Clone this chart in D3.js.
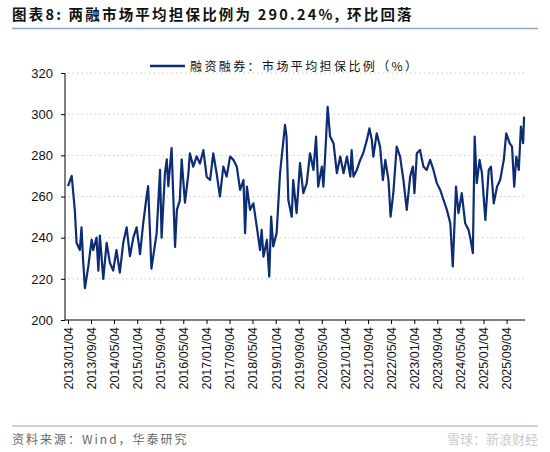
<!DOCTYPE html>
<html><head><meta charset="utf-8">
<script src="https://cdn.jsdelivr.net/npm/d3@7"></script>
<style>body{margin:0;background:#fff}svg{display:block}</style>
</head><body>
<svg id="c" width="550" height="452"></svg>
<script>
const titleText = "图表8:  两融市场平均担保比例为 290.24%,  环比回落";
const seriesName = "融资融券：市场平均担保比例（%）";
const sourceText = "资料来源：Wind，华泰研究";
const watermark = "雪球：新浪财经";
const yTicks = [200,220,240,260,280,300,320];
// reading positions (in 3.04px units from 2013/01/04); calibrated to months below
const monthsRaw = [0,1.2,2.3,2.85,3.95,4.5,5.0,5.6,6.7,7.8,8.3,9.4,10.0,10.5,11.6,12.7,13.8,14.9,16.0,17.1,18.2,19.3,20.4,21.5,22.6,23.7,24.8,25.9,26.4,27.5,29.2,30.3,30.8,31.9,32.5,33.0,34.1,35.2,35.8,36.8,37.4,38.5,39.6,40.1,41.2,42.3,43.4,44.5,45.6,46.7,47.8,48.9,50.0,51.1,52.2,53.3,54.4,55.5,56.6,57.7,58.2,58.8,59.9,61.0,62.1,63.2,63.7,64.3,65.4,66.2,66.8,67.5,68.6,69.7,70.8,71.4,71.9,72.5,73.6,74.1,75.2,76.3,77.4,78.5,79.6,80.7,81.6,82.3,83.5,84.0,84.5,85.4,86.2,87.3,88.4,89.5,90.6,91.7,92.8,93.3,93.9,95.0,96.1,97.1,98.3,99.1,99.9,100.4,101.5,102.6,103.5,104.3,105.4,106.1,107.0,108.1,109.2,110.3,111.4,112.5,113.4,113.9,114.7,115.8,116.9,118.0,119.1,120.2,121.3,122.4,123.5,124.6,125.7,126.5,127.6,128.4,129.5,130.6,131.7,132.2,133.1,133.7,134.4,135.3,136.1,137.2,138.3,139.1,140.0,141.1,142.1,143.3,144.1,145.2,146.0,146.7,147.4,148.2,148.9,149.6,150.0];
const ratio = [265,270,253.5,237.5,234,245,229,215.5,226,239,234,240,224,241,220,237.5,228,224,234,223,237.5,245,231,240,245,232,247,260,265,225,242,273,240,271,278,265,283.5,235.5,253.5,258,278,257,271,281,274.5,279.5,276,282.5,269.5,268,281,271.3,260,274.5,269.7,279.4,277.8,274.5,263.2,268,242.2,264.8,253.5,256.7,245.4,234,243.8,230.8,238.9,221.1,250.2,235.7,242.2,271.3,285.9,294.8,289.1,258.3,250.2,268,251.9,276.2,261.6,266.5,281,272.9,289.1,264.8,274.5,264.8,277.8,303.6,289.1,285.9,271.3,279.4,271.3,279.4,269.7,282.6,269.7,272.9,277.8,281,287.5,293.1,287.5,279.4,290.7,284.2,268,277.8,268,250.2,261.6,284.2,279.4,268,253.5,269.7,274.5,261.6,281,282.6,274.5,272.9,277.8,272.9,266.5,263.2,258.3,253.5,247,226,264.8,251.9,261.6,247,243.8,240.5,232.5,289.1,266.5,277.8,271.3,248.6,272.9,274.5,256.7,264.8,268,277.8,290.7,285.9,284.2,264.8,279.4,272.9,294,285.9,298.8];
const calib = 3.04/2.884;

const start = new Date(2013,0,4);
const toDate = m => { const w = Math.floor(m); const d = d3.timeMonth.offset(start, w); return new Date(+d + (m-w)*30.44*864e5); };
const data = monthsRaw.map((m,i)=>({d:toDate(m*calib), v:ratio[i]}));
const tickDates = d3.range(0,20).map(i=>d3.timeMonth.offset(start, i*8));

const svg = d3.select("#c");
const font = "Arial, 'Liberation Sans', 'Noto Sans CJK SC', sans-serif";
svg.append("text").attr("x",12).attr("y",20).attr("font-family","'Noto Sans CJK SC', sans-serif")
  .attr("font-weight","bold").attr("font-size",14.5).attr("letter-spacing",2.2).attr("fill","#111").text(titleText);
svg.append("line").attr("x1",12).attr("x2",538).attr("y1",28.5).attr("y2",28.5).attr("stroke","#8da6c6").attr("stroke-width",1.5);

const x = d3.scaleTime().domain([start, toDate(150.3*calib)]).range([68,525]);
const y = d3.scaleLinear().domain([200,320]).range([320,73]);

svg.append("g").selectAll("line").data(yTicks.slice(1)).join("line")
  .attr("x1",68).attr("x2",525).attr("y1",d=>y(d)).attr("y2",d=>y(d))
  .attr("stroke","#c8c8c8").attr("stroke-dasharray","1.5,3");

const ya = svg.append("g").attr("transform","translate(65,0)").call(d3.axisLeft(y).tickValues(yTicks).tickSize(4).tickPadding(8));
ya.selectAll("text").attr("font-family",font).attr("font-size",13).attr("fill","#111");
ya.selectAll("line,path").attr("stroke","#000");
ya.select("path").attr("d","M0,73V320");

const xa = svg.append("g").attr("transform","translate(0,320)").call(d3.axisBottom(x).tickValues(tickDates).tickSize(4).tickFormat(d3.timeFormat("%Y/%m/%d")));
xa.select("path").attr("d","M65,0H525").attr("stroke","#000");
xa.selectAll("line").attr("stroke","#000");
xa.selectAll("text").attr("font-family",font).attr("font-size",12.5).attr("fill","#111")
  .attr("transform","rotate(-90)").attr("text-anchor","end").attr("dx","-7").attr("dy","0.35em").attr("y",0).attr("x",0);

svg.append("path").datum(data).attr("fill","none").attr("stroke","#0c2c74").attr("stroke-width",2.2)
  .attr("stroke-linejoin","round").attr("d",d3.line().x(d=>x(d.d)).y(d=>y(d.v)));

svg.append("line").attr("x1",150).attr("x2",185).attr("y1",66).attr("y2",66).attr("stroke","#0c2c74").attr("stroke-width",2.5);
svg.append("text").attr("x",190).attr("y",70.5).attr("font-family","'Noto Sans CJK SC', sans-serif").attr("font-size",12).attr("letter-spacing",2.4).attr("fill","#111").text(seriesName);

svg.append("line").attr("x1",12).attr("x2",538).attr("y1",426).attr("y2",426).attr("stroke","#8da6c6").attr("stroke-width",1.2);
svg.append("text").attr("x",12).attr("y",444).attr("font-family","'Noto Sans CJK SC', sans-serif").attr("font-size",12).attr("letter-spacing",2).attr("fill","#666").text(sourceText);
svg.append("text").attr("x",538).attr("y",444).attr("text-anchor","end").attr("font-family","'Noto Sans CJK SC', sans-serif").attr("font-size",13).attr("fill","#ccc").text(watermark);
</script></body></html>
